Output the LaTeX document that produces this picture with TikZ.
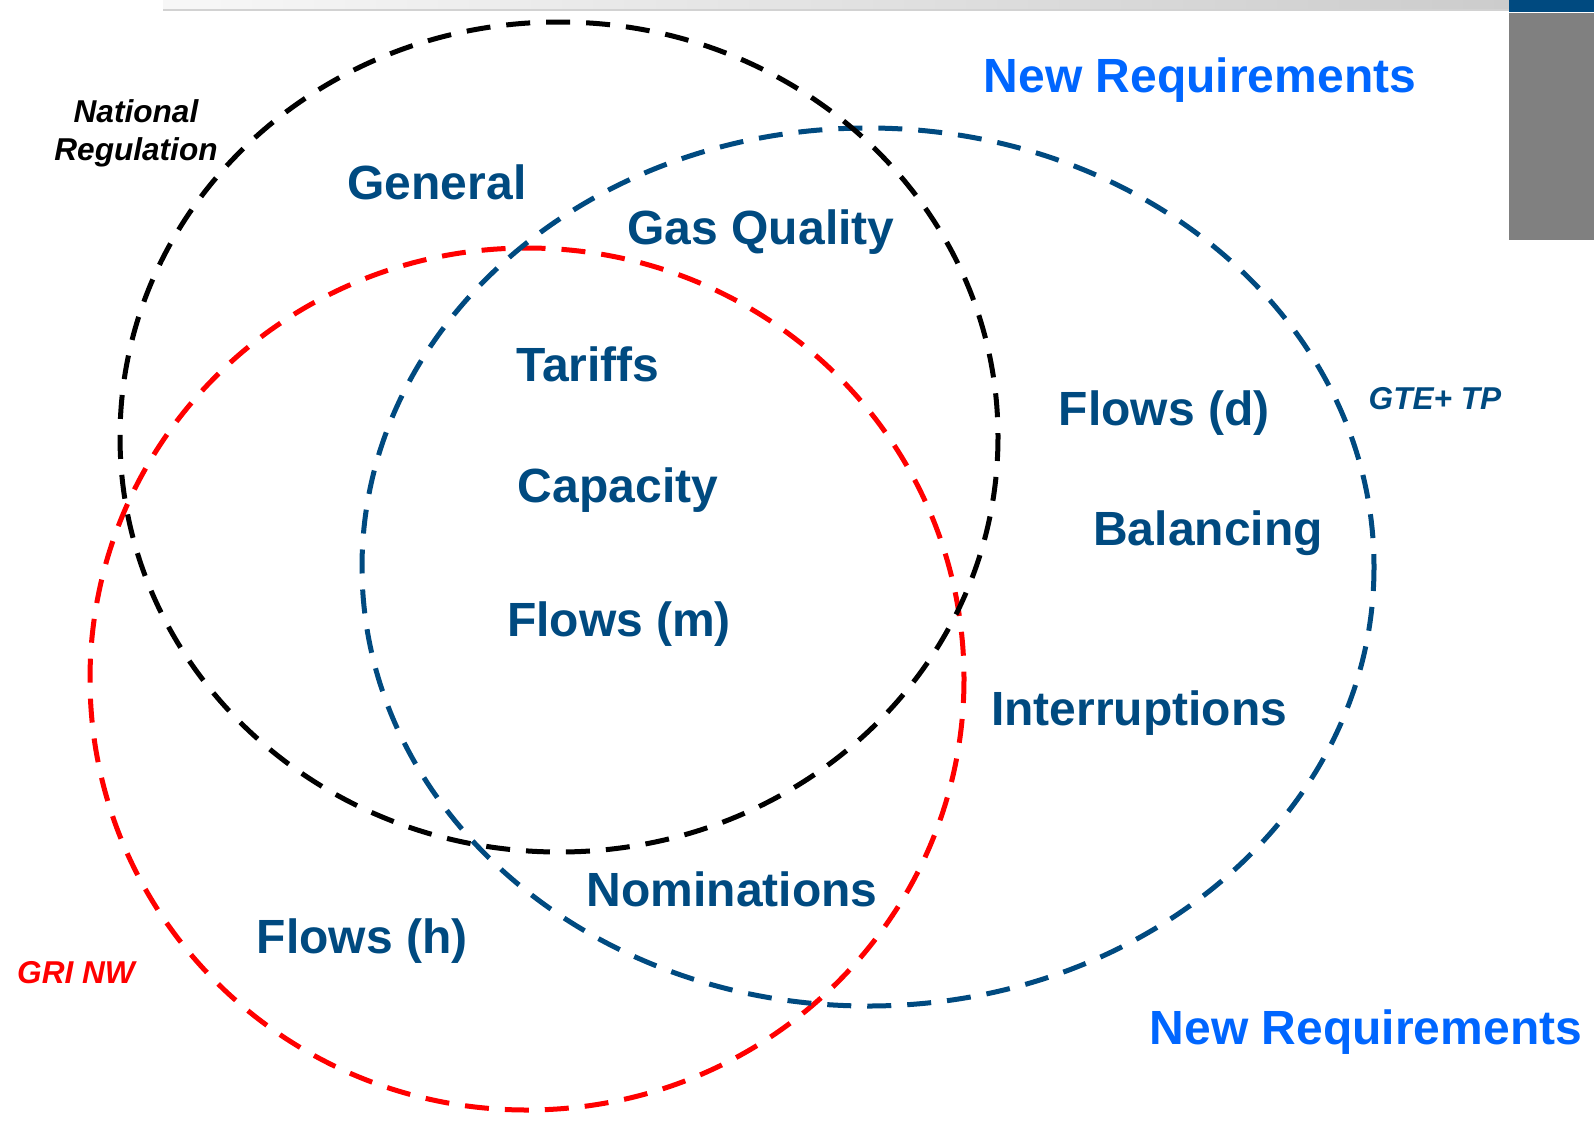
\documentclass[tikz,border=0pt]{standalone}
\usepackage{fontspec}
\setmainfont{Liberation Sans}
\definecolor{darkblue}{RGB}{0,74,128}
\definecolor{brightblue}{RGB}{0,102,255}
\begin{document}
\begin{tikzpicture}[x=0.5pt,y=-0.5pt,
  topic/.style={font=\fontsize{24}{28}\selectfont\bfseries, text=darkblue, anchor=base, inner sep=0pt},
  newreq/.style={topic, text=brightblue},
  group/.style={font=\fontsize{15.8}{18.8}\selectfont\bfseries\itshape, anchor=base, inner sep=0pt, align=center},
  ring/.style={line width=2.5pt, dash pattern=on 12pt off 8pt}]

\useasboundingbox (0,0) rectangle (1594,1125);

% header bar
\shade[left color=gray!6, right color=gray!40] (163,0) rectangle (1509,10);
\draw[gray!35, line width=0.6pt] (163,10) -- (1509,10);
\fill[darkblue] (1509,0) rectangle (1594,12);
\fill[gray] (1509,13) rectangle (1594,240);

% the three sets
\draw[ring, red] (527,679) ellipse [x radius=437, y radius=431];
\draw[ring, darkblue] (868,567) ellipse [x radius=506, y radius=439];
\draw[ring, black] (559,437) ellipse [x radius=439, y radius=415];

\node[group] (natreg) at (136,160) {National\\Regulation};
\node[group, text=darkblue] (gte) at (1435,409) {GTE+ TP};
\node[group, text=red] (grinw) at (76,983) {GRI NW};

\node[topic] (general) at (437,199) {General};
\node[topic] (gasq) at (761,244) {Gas Quality};
\node[topic] (tariffs) at (588,381) {Tariffs};
\node[topic] (capacity) at (618,502) {Capacity};
\node[topic] (flowsm) at (619,636) {Flows (m)};
\node[topic] (flowsd) at (1164,425) {Flows (d)};
\node[topic] (balancing) at (1208,545) {Balancing};
\node[topic] (interr) at (1139,725) {Interruptions};
\node[topic] (nominations) at (732,906) {Nominations};
\node[topic] (flowsh) at (362,953) {Flows (h)};

\node[newreq] (newreqtop) at (1200,92) {New Requirements};
\node[newreq] (newreqbot) at (1366,1044) {New Requirements};
\end{tikzpicture}
\end{document}
